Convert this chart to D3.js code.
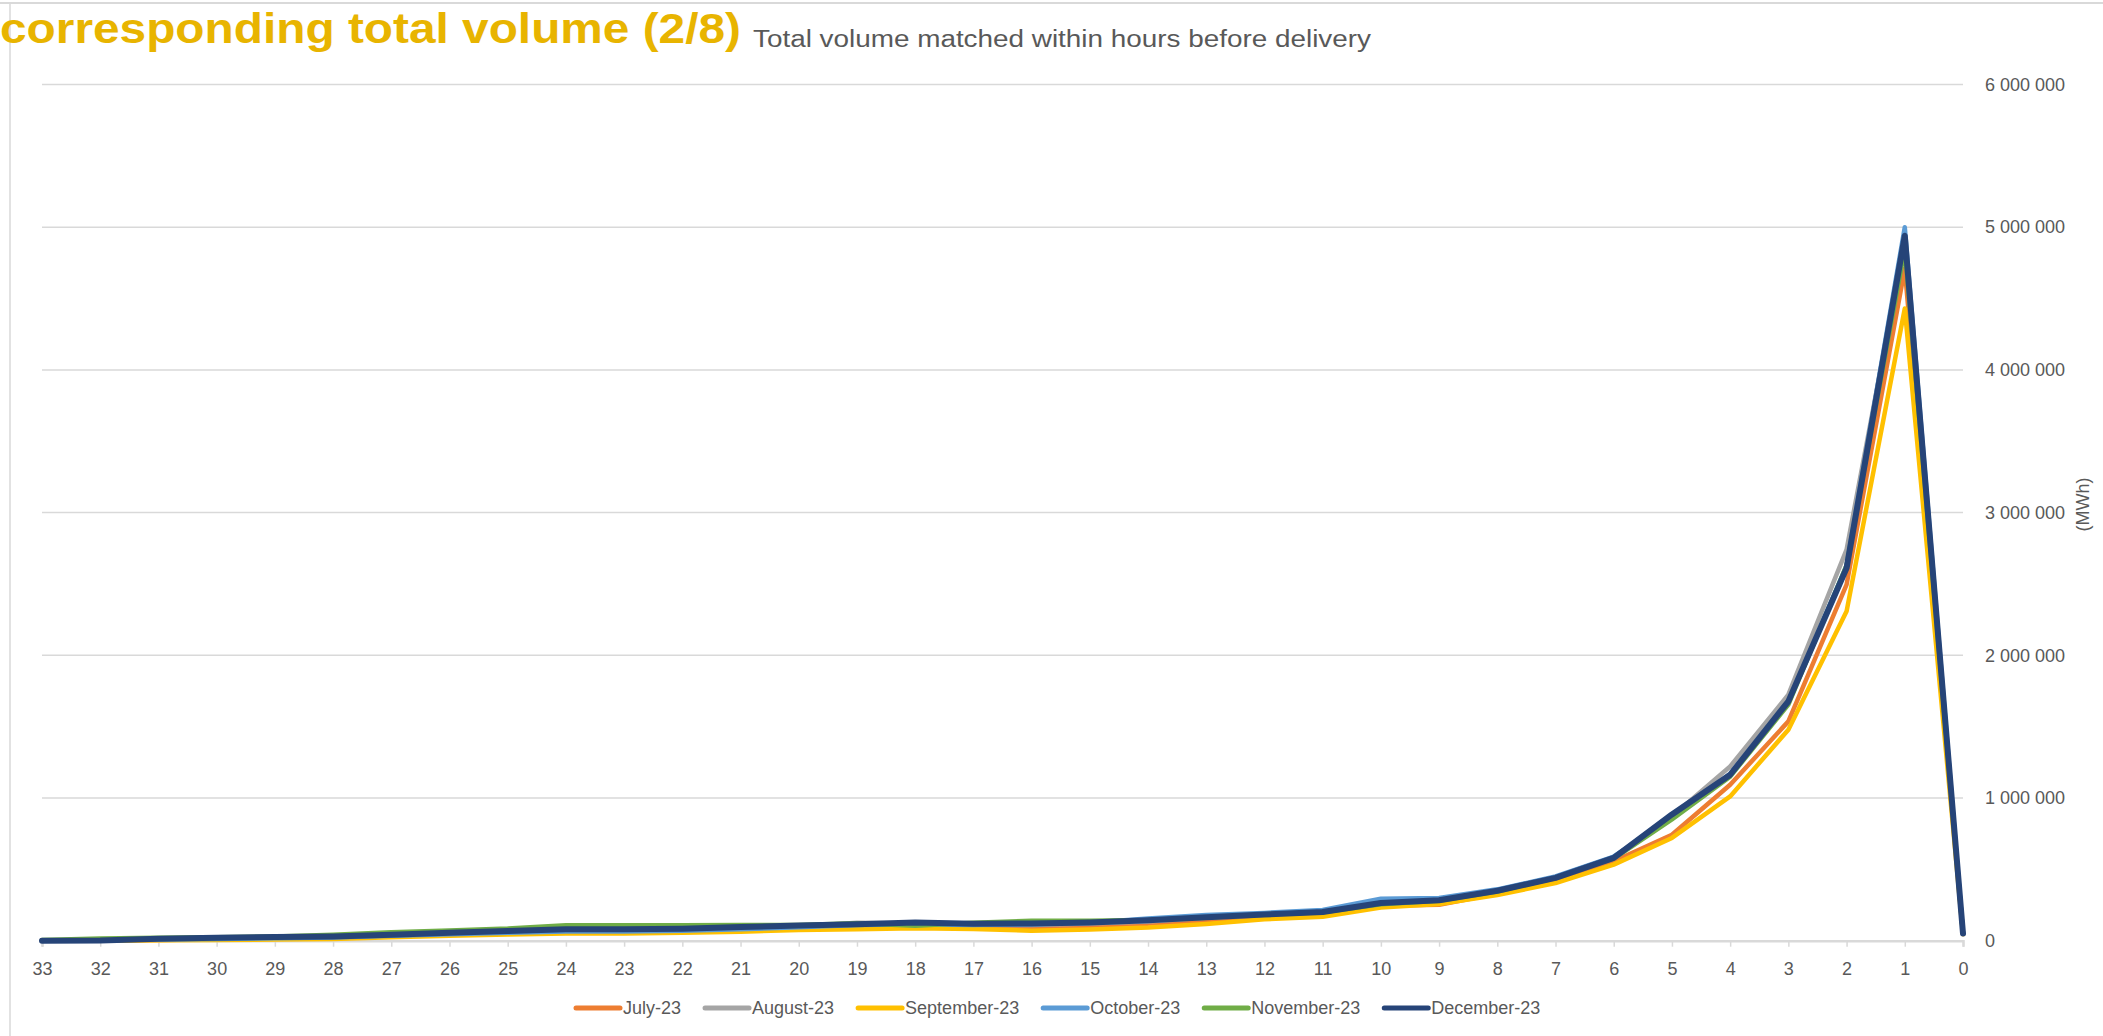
<!DOCTYPE html>
<html>
<head>
<meta charset="utf-8">
<script src="https://cdn.jsdelivr.net/npm/d3@7"></script>
<style>
  body { margin: 0; background: #fff; }
  svg { display: block; font-family: "Liberation Sans", Arial, sans-serif; }
</style>
</head>
<body>
<svg id="chart" width="2103" height="1036"></svg>
<script>
const HOURS = [33, 32, 31, 30, 29, 28, 27, 26, 25, 24, 23, 22, 21, 20, 19, 18, 17, 16, 15, 14, 13, 12, 11, 10, 9, 8, 7, 6, 5, 4, 3, 2, 1, 0];
const Y_TICKS = [0, 1000000, 2000000, 3000000, 4000000, 5000000, 6000000];

const SERIES_NAMES = ["July-23", "August-23", "September-23", "October-23", "November-23", "December-23"];
const SERIES_COLORS = ["#ED7D31", "#A5A5A5", "#FFC000", "#5B9BD5", "#70AD47", "#264478"];

// MWh per hour before delivery, same order as HOURS
const july23 = [0, 0, 5000, 10000, 15000, 20000, 30000, 42000, 52000, 60000, 60000, 65000, 75000, 85000, 95000, 105000, 100000, 95000, 105000, 115000, 140000, 165000, 180000, 245000, 252000, 330000, 420000, 556000, 743000, 1093000, 1537000, 2495000, 4710000, 50000];
const august23 = [0, 2000, 10000, 15000, 20000, 25000, 38000, 50000, 62000, 75000, 75000, 80000, 90000, 100000, 125000, 120000, 112000, 110000, 120000, 135000, 160000, 180000, 200000, 255000, 275000, 345000, 445000, 585000, 870000, 1221000, 1724000, 2740000, 4900000, 50000];
const september23 = [0, 0, 3000, 5000, 8000, 12000, 25000, 35000, 44000, 51000, 51000, 56000, 63000, 75000, 80000, 88000, 82000, 70000, 79000, 93000, 117000, 150000, 168000, 232000, 257000, 320000, 404000, 533000, 720000, 1011000, 1479000, 2308000, 4430000, 45000];
const october23 = [0, 3000, 8000, 12000, 18000, 22000, 35000, 45000, 55000, 65000, 65000, 70000, 80000, 95000, 110000, 115000, 110000, 115000, 125000, 155000, 180000, 195000, 215000, 294000, 300000, 360000, 450000, 590000, 855000, 1170000, 1670000, 2630000, 5000000, 50000];
const november23 = [5000, 15000, 20000, 25000, 30000, 42000, 60000, 72000, 85000, 108000, 108000, 108000, 110000, 110000, 122000, 105000, 125000, 140000, 140000, 145000, 160000, 185000, 200000, 255000, 280000, 345000, 440000, 575000, 850000, 1150000, 1654000, 2630000, 4850000, 50000];
const december23 = [0, 2000, 14000, 20000, 26000, 30000, 42000, 55000, 68000, 80000, 80000, 84000, 96000, 106000, 116000, 127000, 119000, 121000, 128000, 143000, 165000, 183000, 201000, 264000, 283000, 350000, 440000, 580000, 885000, 1163000, 1677000, 2611000, 4940000, 50000];

const SERIES_VALUES = [july23, august23, september23, october23, november23, december23];

const TITLE = "corresponding total volume (2/8)";
const SUBTITLE = "Total volume matched within hours before delivery";
const UNIT = "(MWh)";

const svg = d3.select("#chart");
const plot = { left: 42, right: 1963, top: 84.5, bottom: 940.7 };

const xScale = d3.scalePoint().domain(HOURS).range([plot.left, plot.right]);
const yScale = d3.scaleLinear().domain([0, 6000000]).range([plot.bottom, plot.top]);
const spaceFormat = d3.formatLocale({ decimal: ".", thousands: " ", grouping: [3], currency: ["", ""] }).format(",");

drawFrame();
drawTitles();
drawGrid();
drawAxes();
drawLines();
drawLegend();

function drawFrame() {
    svg.append("line").attr("x1", 0).attr("x2", 2103).attr("y1", 3).attr("y2", 3)
        .attr("stroke", "#d9d9d9").attr("stroke-width", 2);
    svg.append("line").attr("x1", 10).attr("x2", 10).attr("y1", 3).attr("y2", 1036)
        .attr("stroke", "#d9d9d9").attr("stroke-width", 1.5);
}

function drawTitles() {
    svg.append("text")
        .attr("x", 0).attr("y", 43)
        .attr("fill", "#E8B400")
        .style("font-size", "42px").style("font-weight", "bold")
        .attr("textLength", 741).attr("lengthAdjust", "spacingAndGlyphs")
        .text(TITLE);

    svg.append("text")
        .attr("x", 753).attr("y", 47)
        .attr("fill", "#595959")
        .style("font-size", "23px")
        .attr("textLength", 618).attr("lengthAdjust", "spacingAndGlyphs")
        .text(SUBTITLE);
}

function drawGrid() {
    svg.append("g").selectAll("line")
        .data(Y_TICKS.filter(d => d > 0))
        .join("line")
        .attr("x1", plot.left).attr("x2", plot.right)
        .attr("y1", d => yScale(d)).attr("y2", d => yScale(d))
        .attr("stroke", "#d9d9d9").attr("stroke-width", 1.5);
}

function drawAxes() {
    const xAxis = svg.append("g")
        .attr("transform", `translate(0,${plot.bottom})`)
        .call(d3.axisBottom(xScale).tickSize(6).tickPadding(16));
    xAxis.select(".domain").attr("stroke", "#d9d9d9").attr("stroke-width", 2.5);
    xAxis.selectAll(".tick line").attr("stroke", "#d9d9d9").attr("stroke-width", 1.5);
    xAxis.selectAll(".tick text").attr("fill", "#595959").style("font-size", "18px")
        .style("font-family", "'Liberation Sans', Arial, sans-serif");

    const yAxis = svg.append("g")
        .attr("transform", `translate(${plot.right},0)`)
        .call(d3.axisRight(yScale).tickValues(Y_TICKS).tickSize(0).tickPadding(22).tickFormat(spaceFormat));
    yAxis.select(".domain").remove();
    yAxis.selectAll(".tick text").attr("fill", "#595959").style("font-size", "18px")
        .style("font-family", "'Liberation Sans', Arial, sans-serif");

    svg.append("text")
        .attr("transform", `translate(2089,${(plot.top + plot.bottom) / 2 - 8}) rotate(-90)`)
        .attr("text-anchor", "middle")
        .attr("fill", "#595959")
        .style("font-size", "18px")
        .text(UNIT);
}

function drawLines() {
    const lineGenerator = d3.line()
        .x((d, i) => xScale(HOURS[i]))
        .y(d => yScale(d));

    SERIES_VALUES.forEach((values, i) => {
        svg.append("path")
            .datum(values)
            .attr("fill", "none")
            .attr("stroke", SERIES_COLORS[i])
            .attr("stroke-width", i === 5 ? 6 : 4.5)
            .attr("stroke-linejoin", "round")
            .attr("stroke-linecap", "round")
            .attr("d", lineGenerator);
    });
}

function drawLegend() {
    const legend = svg.append("g").attr("transform", "translate(576,1008)");
    let x = 0;
    SERIES_NAMES.forEach((name, i) => {
        const item = legend.append("g").attr("transform", `translate(${x},0)`);
        item.append("line")
            .attr("x1", 0).attr("x2", 44)
            .attr("stroke", SERIES_COLORS[i]).attr("stroke-width", 5)
            .attr("stroke-linecap", "round");
        const label = item.append("text")
            .attr("x", 47).attr("dy", "0.35em")
            .attr("fill", "#595959")
            .style("font-size", "18px")
            .text(name);
        x += 47 + label.node().getComputedTextLength() + 24;
    });
}
</script>
</body>
</html>
